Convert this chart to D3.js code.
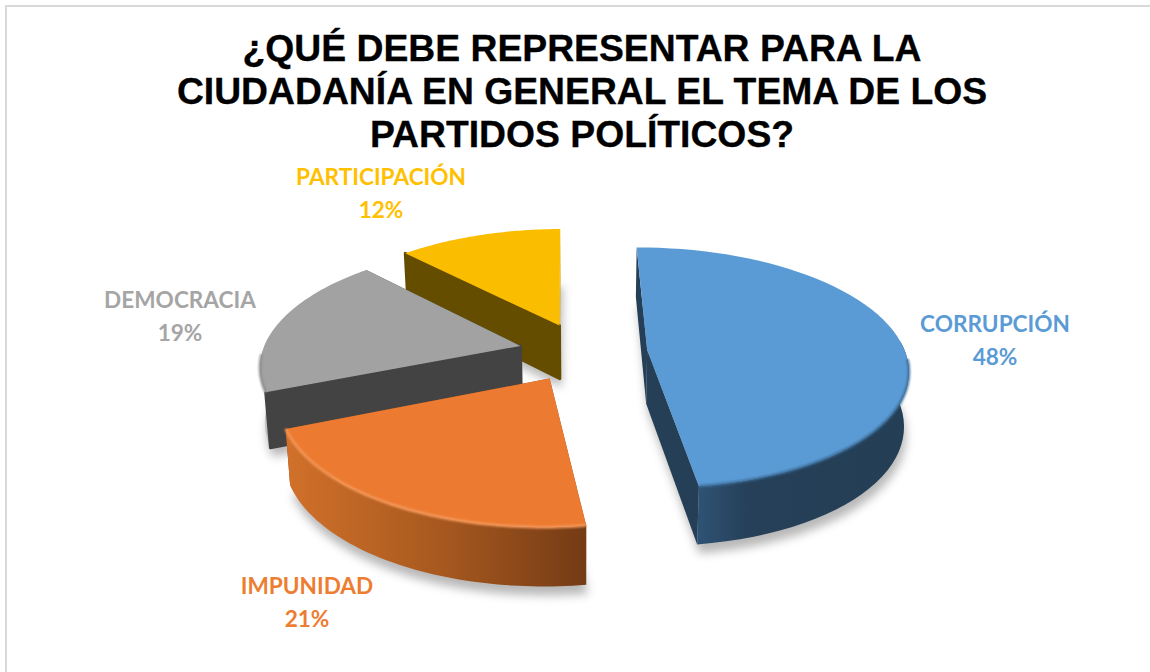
<!DOCTYPE html>
<html>
<head>
<meta charset="utf-8">
<script src="https://cdn.jsdelivr.net/npm/d3@7"></script>
<style>
html, body { margin: 0; padding: 0; background: #fff; overflow: hidden; }
</style>
</head>
<body>
<svg id="chart"></svg>
<script>
/*Chart data*/
const categories = ["CORRUPCIÓN", "IMPUNIDAD", "DEMOCRACIA", "PARTICIPACIÓN"];
const values = [48, 21, 19, 12];
const titleLines = ["¿QUÉ DEBE REPRESENTAR PARA LA", "CIUDADANÍA EN GENERAL EL TEMA DE LOS", "PARTIDOS POLÍTICOS?"];

/*Colours per slice*/
const topColors = ["#5B9BD5", "#EC7B31", "#A2A2A2", "#FBBD00"];
const labelColors = ["#5B9BD5", "#ED7D31", "#A5A5A5", "#FFC000"];
const startCutColors = ["#253F56", "#8a4a1c", "#434343", "#654D00"];
const endCutColors = ["#253F56", "#8a4a1c", "#434343", "#D9A400"];
const wallStops = [
       [["0%", "#2F5375"], ["25%", "#254058"], ["100%", "#243E55"]],
       [["0%", "#D0702A"], ["50%", "#A8591F"], ["100%", "#743B15"]],
       [["0%", "#C4C4C4"], ["100%", "#8E8E8E"]],
       [["0%", "#D9A400"], ["100%", "#C99A00"]]
];
const bevelColors = ["#3b6d99", "#F79A5C", "#8b8b8b", "#D9A400"];

/*Layout*/
const chartWidth = 1150;
const chartHeight = 672;
const labelPos = [[995, 324], [307, 586], [180, 300], [381, 177]];

/*Perspective of the pie plane. u goes right, v goes to the viewer, h=1 is the underside*/
const vanishX = 583;
const vanishY = -446;
const planeDist = 798;
const persp = 0.148;
const radiusX = 258;
const explode = 0.25;
const thickness = 54;
const firstAngle = -0.01;

function project(u, v, h){
       const w = 1 - persp*v;
       return [
              vanishX + radiusX*u*(1 - 0.015*h)/w,
              vanishY + planeDist/w + thickness*h*(1 + 0.08*v)
       ];
}

const svg = d3.select("#chart")
       .attr("width", chartWidth)
       .attr("height", chartHeight)
       .style("display", "block");

const defs = svg.append("defs");
defs.append("filter").attr("id", "shadowBlur")
       .attr("x", "-20%").attr("y", "-20%").attr("width", "140%").attr("height", "140%")
       .append("feGaussianBlur").attr("stdDeviation", 5);
defs.append("filter").attr("id", "bevelBlur")
       .attr("filterUnits", "userSpaceOnUse")
       .attr("x", 0).attr("y", 0).attr("width", chartWidth).attr("height", chartHeight)
       .append("feGaussianBlur").attr("stdDeviation", 1.2);

/*Frame, runs off the right and the bottom of the picture*/
svg.append("rect")
       .attr("x", 6).attr("y", 6)
       .attr("width", chartWidth + 20).attr("height", chartHeight + 20)
       .attr("fill", "#fff")
       .attr("stroke", "#D9D9D9")
       .attr("stroke-width", 2);

/*Title*/
svg.append("g").selectAll("text")
       .data(titleLines)
       .enter()
       .append("text")
       .text((d)=>d)
       .attr("x", 582)
       .attr("y", (d, i)=>61 + i*43)
       .attr("text-anchor", "middle")
       .attr("font-family", "'Liberation Sans', Arial, sans-serif")
       .attr("font-weight", "bold")
       .attr("font-size", 37.3)
       .attr("stroke", "#000")
       .attr("stroke-width", 0.3);

/*Slices*/
const slices = d3.pie().sort(null).startAngle(firstAngle).endAngle(firstAngle + 2*Math.PI)(values);
const line = d3.line();

function sliceGeometry(d){
       const mid = (d.startAngle + d.endAngle)/2;
       const cu = explode*Math.sin(mid);
       const cv = -explode*Math.cos(mid);
       const arcAngles = d3.range(0, 61).map((i)=>d.startAngle + (d.endAngle - d.startAngle)*i/60);
       const edge = (a, h)=>project(cu + Math.sin(a), cv - Math.cos(a), h);
       return {
              apex: (h)=>project(cu, cv, h),
              arc: (h)=>arcAngles.map((a)=>edge(a, h)),
              /*only the part of the rim that faces the viewer*/
              rim: (h)=>arcAngles.filter((a)=>Math.cos(a) < 0.1).map((a)=>edge(a, h)),
              bevel: ()=>arcAngles.filter((a)=>Math.cos(a) < -0.05).map((a)=>edge(a, 0)),
              first: (h)=>edge(d.startAngle, h),
              last: (h)=>edge(d.endAngle, h)
       };
}

const geo = slices.map(sliceGeometry);

slices.forEach((d, i)=>{
       const xs = geo[i].arc(1).map((p)=>p[0]);
       /*the light side of the rim is on the left except for the first slice*/
       const grad = defs.append("linearGradient")
              .attr("id", "wall" + i)
              .attr("gradientUnits", "userSpaceOnUse")
              .attr("x1", i == 0 ? geo[i].last(1)[0] : d3.min(xs))
              .attr("x2", d3.max(xs))
              .attr("y1", 0).attr("y2", 0);
       wallStops[i].forEach((s)=>{
              grad.append("stop").attr("offset", s[0]).attr("stop-color", s[1]);
       });
});

/*Back to front: yellow, grey, blue, orange*/
const drawOrder = [3, 2, 0, 1];

drawOrder.forEach((i)=>{
       const g = geo[i];
       const gr = svg.append("g").attr("class", "slice").attr("id", "slice" + i);
       /*the start cut of the left hand slices looks at the viewer, it goes over the rim*/
       const startOnTop = slices[i].startAngle > Math.PI;

       /*soft shadow under the slice*/
       const outline = [g.apex(1)].concat(g.arc(1));
       gr.append("path")
              .attr("d", line(outline) + "Z")
              .attr("transform", "translate(2 9)")
              .attr("fill", "#000")
              .attr("fill-opacity", 0.28)
              .attr("filter", "url(#shadowBlur)");

       function startCut(){
              gr.append("path")
                     .attr("d", line([g.apex(0), g.first(0), g.first(1), g.apex(1)]) + "Z")
                     .attr("fill", startCutColors[i])
                     .attr("stroke", startOnTop ? startCutColors[i] : "none")
                     .attr("stroke-width", 3)
                     .attr("stroke-linejoin", "round");
       }

       gr.append("path")
              .attr("d", line([g.apex(0), g.last(0), g.last(1), g.apex(1)]) + "Z")
              .attr("fill", endCutColors[i]);
       if(!startOnTop) startCut();

       /*rim*/
       const rimTop = g.rim(0);
       if(rimTop.length > 1){
              gr.append("path")
                     .attr("d", line(rimTop.concat(g.rim(1).reverse())) + "Z")
                     .attr("fill", "url(#wall" + i + ")");
       }

       if(startOnTop) startCut();

       /*top face*/
       gr.append("path")
              .attr("d", line([g.apex(0)].concat(g.arc(0))) + "Z")
              .attr("fill", topColors[i]);

       /*bevel along the rim*/
       if(g.bevel().length > 1){
              gr.append("path")
                     .attr("d", line(g.bevel()))
                     .attr("fill", "none")
                     .attr("stroke", bevelColors[i])
                     .attr("stroke-width", 2.5)
                     .attr("filter", "url(#bevelBlur)");
       }
});

/*Data labels*/
const labels = svg.append("g").selectAll("g")
       .data(categories)
       .enter()
       .append("g")
       .attr("transform", (d, i)=>"translate(" + labelPos[i][0] + " " + labelPos[i][1] + ")")
       .attr("fill", (d, i)=>labelColors[i])
       .attr("font-family", "Lato, 'Open Sans', sans-serif")
       .attr("font-weight", "bold")
       .attr("font-size", 22.6)
       .attr("text-anchor", "middle");

labels.append("text")
       .text((d)=>d)
       .attr("y", 8);

labels.append("text")
       .text((d, i)=>values[i] + "%")
       .attr("y", 41);
</script>
</body>
</html>
